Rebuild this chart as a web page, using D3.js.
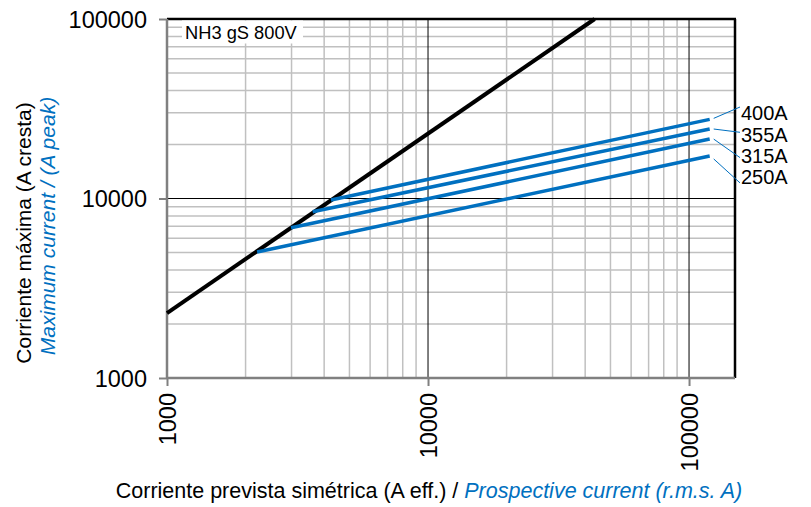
<!DOCTYPE html>
<html><head><meta charset="utf-8">
<script src="https://cdn.jsdelivr.net/npm/d3@7/dist/d3.min.js"></script>
<style>body{margin:0;background:#fff}svg{display:block;font-family:"Liberation Sans",Arial,sans-serif}</style>
</head><body><svg id="c" width="811" height="507"></svg>
<script>
// ---- data ----
const xDomain = [1000, 150000];
const yDomain = [1000, 100000];
const xTicks = [1000, 10000, 100000];
const yTicks = [1000, 10000, 100000];
const xMinor = [2000,3000,4000,5000,6000,7000,8000,9000,20000,30000,40000,50000,60000,70000,80000,90000];
const yMinor = [2000,3000,4000,5000,6000,7000,8000,9000,20000,30000,40000,50000,60000,70000,80000,90000];
const unlimitedX = [1000, 43500];
const unlimitedY = [2300, 100000];
const ratings = ["250A", "315A", "355A", "400A"];
const startX = [2214, 2985, 3614, 4248];
const startY = [5035, 6876, 8440, 9810];
const endX = [120000, 120000, 120000, 120000];
const endY = [17260, 21430, 24380, 27600];
const chartTitle = "NH3 gS 800V";

// ---- layout ----
const svg = d3.select("#c");
const L = 167, R = 735, T = 19, B = 378;
const x = d3.scaleLog().domain(xDomain).range([L, R]);
const y = d3.scaleLog().domain(yDomain).range([B, T]);
const blue = "#0070C0";
const FF = '"Liberation Sans",Arial,sans-serif';

// minor grid
svg.append("g").selectAll("line").data(xMinor).join("line")
  .attr("x1", d => x(d)).attr("x2", d => x(d)).attr("y1", T).attr("y2", B)
  .attr("stroke", "#c0c0c0").attr("stroke-width", 1.5);
svg.append("g").selectAll("line").data(yMinor).join("line")
  .attr("x1", L).attr("x2", R).attr("y1", d => y(d)).attr("y2", d => y(d))
  .attr("stroke", "#c0c0c0").attr("stroke-width", 1.5);
// major grid
svg.append("g").selectAll("line").data(xTicks.slice(1)).join("line")
  .attr("x1", d => x(d)).attr("x2", d => x(d)).attr("y1", T).attr("y2", B)
  .attr("stroke", "#000").attr("stroke-width", 1);
svg.append("g").selectAll("line").data(yTicks.slice(1, 2)).join("line")
  .attr("x1", L).attr("x2", R).attr("y1", d => y(d)).attr("y2", d => y(d))
  .attr("stroke", "#000").attr("stroke-width", 1);

// borders top/right
svg.append("line").attr("x1", L).attr("x2", R + 1).attr("y1", T).attr("y2", T).attr("stroke", "#000").attr("stroke-width", 2.5);
svg.append("line").attr("x1", R).attr("x2", R).attr("y1", T).attr("y2", B).attr("stroke", "#000").attr("stroke-width", 2.5);

// axes
const xAxis = svg.append("g").attr("transform", `translate(0,${B})`)
  .call(d3.axisBottom(x).tickValues(xTicks).tickFormat(d3.format("d")).tickSize(8).tickPadding(8));
const yAxis = svg.append("g").attr("transform", `translate(${L},0)`)
  .call(d3.axisLeft(y).tickValues(yTicks).tickFormat(d3.format("d")).tickSize(8).tickPadding(12));
[xAxis, yAxis].forEach(a => {
  a.select(".domain").attr("stroke", "#808080").attr("stroke-width", 2.5);
  a.selectAll(".tick line").attr("stroke", "#808080").attr("stroke-width", 2);
  a.selectAll("text").attr("fill", "#000").style("font-size", "23.5px").style("font-family", FF);
});
xAxis.select(".domain").attr("d", `M${L},0H${R}`);
yAxis.select(".domain").attr("d", `M0,${T}V${B}`);
xAxis.selectAll("text").attr("transform", "rotate(-90)").attr("text-anchor", "end")
  .attr("x", -15).attr("y", 0).attr("dy", "0.35em");
yAxis.selectAll("text").attr("dy", "0.36em");

// title box
const tb = svg.append("g");
tb.append("rect").attr("x", 182).attr("y", T + 1.5).attr("width", 121).attr("height", 23).attr("fill", "#fff");
tb.append("text").attr("x", 185).attr("y", 39).text(chartTitle).style("font-size", "18.3px").attr("fill", "#000");

// unlimited line
const line = d3.line().x(d => x(d[0])).y(d => y(d[1]));
svg.append("path").attr("d", line(unlimitedX.map((v, i) => [v, unlimitedY[i]])))
  .attr("fill", "none").attr("stroke", "#000").attr("stroke-width", 4);

// fuse lines
ratings.forEach((r, i) => {
  svg.append("path").attr("d", line([[startX[i], startY[i]], [endX[i], endY[i]]]))
    .attr("fill", "none").attr("stroke", blue).attr("stroke-width", 3.5).attr("stroke-linecap", "butt");
});

// labels (ordered top to bottom)
const order = ratings.map((r, i) => i).sort((a, b) => endY[b] - endY[a]);
const labelY0 = 113, labelStep = 21.3;
order.forEach((i, k) => {
  const ly = labelY0 + k * labelStep;
  const ex = x(endX[i]) + 4, ey = y(endY[i]) + (k === 3 ? 3 : 0) - (k === 0 ? 1 : 0);
  svg.append("line").attr("x1", ex).attr("y1", ey).attr("x2", 740).attr("y2", ly - 2 + (k - 1) * 4)
    .attr("stroke", blue).attr("stroke-width", 1);
  svg.append("text").attr("x", 741).attr("y", ly).attr("dy", "0.36em").text(ratings[i])
    .style("font-size", "20px").attr("fill", "#000");
});

// axis titles
const xt = svg.append("text").attr("x", 429).attr("y", 498).attr("text-anchor", "middle").style("font-size", "21.5px");
xt.append("tspan").attr("fill", "#000").text("Corriente prevista simétrica (A eff.) / ");
xt.append("tspan").attr("fill", blue).attr("font-style", "italic").text("Prospective current (r.m.s. A)");

svg.append("text").attr("transform", "translate(31,233) rotate(-90)").attr("text-anchor", "middle")
  .style("font-size", "21px").attr("fill", "#000").text("Corriente máxima (A cresta)");
svg.append("text").attr("transform", "translate(55,226) rotate(-90)").attr("text-anchor", "middle")
  .style("font-size", "21px").attr("fill", blue).attr("font-style", "italic").text("Maximum current / (A peak)");
</script></body></html>
